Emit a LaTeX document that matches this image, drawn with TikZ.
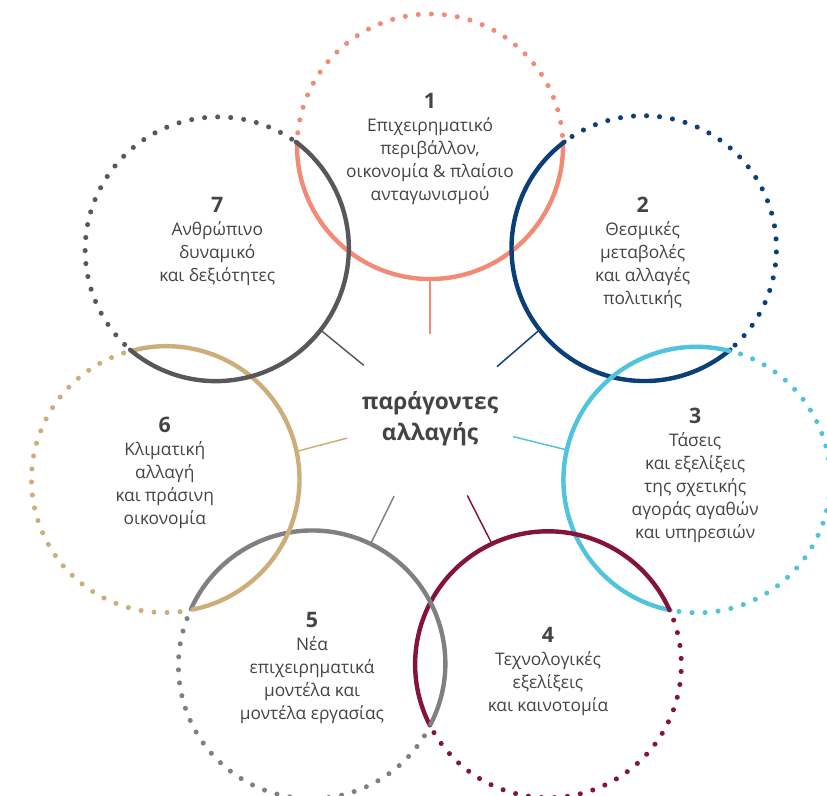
\documentclass[tikz,border=0pt]{standalone}
\usepackage{fontspec}
\setmainfont{Open Sans}
\usepackage{tikz}
\usetikzlibrary{shapes}

\definecolor{salmon}{HTML}{F28A75}
\definecolor{navy}{HTML}{0B3F78}
\definecolor{skyblue}{HTML}{4FC4DA}
\definecolor{wine}{HTML}{841538}
\definecolor{midgray}{HTML}{808084}
\definecolor{sand}{HTML}{CDAD7A}
\definecolor{darkgray}{HTML}{58585A}
\definecolor{inkgray}{HTML}{444444}

\begin{document}
\begin{tikzpicture}[x=0.75pt, y=0.75pt, ring/.style={circle, inner sep=0pt, outer sep=0pt, minimum size=199.5pt}, solidarc/.style={line width=3.3pt, line cap=round}, dotarc/.style={line width=3.8pt, line cap=round, dash pattern=on 0pt off 9.8pt}, spoke/.style={line width=1.1pt}, factor/.style={anchor=north, inner sep=0pt, align=center, text=inkgray, font=\fontsize{13}{17.25}\selectfont}, hubtext/.style={circle, inner sep=0pt, outer sep=0pt, minimum size=127.5pt, align=center, text=inkgray, font=\fontsize{17}{23}\selectfont\bfseries}]
		\useasboundingbox (0, 0) rectangle (827, 795);
		\node[hubtext] (hub) at (430, 376) {παράγοντες\\αλλαγής};
		
		\node[ring] (k1) at (430, 648) {};
		\draw[dotarc, salmon] (k1.5) arc[start angle=5, end angle=175, radius=133];
		\draw[solidarc, salmon] (k1.178.4) arc[start angle=178.4, end angle=361.6, radius=133];
		\node[factor] (t1) at (430, 702) {{\fontsize{16}{17.25}\selectfont\bfseries 1}\\Επιχειρηματικό\\περιβάλλον,\\οικονομία \& πλαίσιο\\ανταγωνισμού};
		
		\node[ring] (k2) at (642.7, 545.6) {};
		\draw[dotarc, navy] (k2.-46.43) arc[start angle=-46.43, end angle=123.57, radius=133];
		\draw[solidarc, navy] (k2.126.97) arc[start angle=126.97, end angle=310.17, radius=133];
		\node[factor] (t2) at (642.7, 598) {{\fontsize{16}{17.25}\selectfont\bfseries 2}\\Θεσμικές\\μεταβολές\\και αλλαγές\\πολιτικής};
		
		\node[ring] (k3) at (695.2, 315.5) {};
		\draw[dotarc, skyblue] (k3.-97.86) arc[start angle=-97.86, end angle=72.14, radius=133];
		\draw[solidarc, skyblue] (k3.75.54) arc[start angle=75.54, end angle=258.74, radius=133];
		\node[factor] (t3) at (695.2, 387) {{\fontsize{16}{17.25}\selectfont\bfseries 3}\\Τάσεις\\και εξελίξεις\\της σχετικής\\αγοράς αγαθών\\και υπηρεσιών};
		
		\node[ring] (k4) at (548, 130.9) {};
		\draw[dotarc, wine] (k4.-149.29) arc[start angle=-149.29, end angle=20.71, radius=133];
		\draw[solidarc, wine] (k4.24.11) arc[start angle=24.11, end angle=207.31, radius=133];
		\node[factor] (t4) at (548, 168) {{\fontsize{16}{17.25}\selectfont\bfseries 4}\\Τεχνολογικές\\εξελίξεις\\και καινοτομία};
		
		\node[ring] (k5) at (312, 130.9) {};
		\draw[dotarc, midgray] (k5.-200.71) arc[start angle=-200.71, end angle=-30.71, radius=133];
		\draw[solidarc, midgray] (k5.-27.31) arc[start angle=-27.31, end angle=155.89, radius=133];
		\node[factor] (t5) at (312, 183) {{\fontsize{16}{17.25}\selectfont\bfseries 5}\\Νέα\\επιχειρηματικά\\μοντέλα και\\μοντέλα εργασίας};
		
		\node[ring] (k6) at (164.8, 315.5) {};
		\draw[dotarc, sand] (k6.-252.14) arc[start angle=-252.14, end angle=-82.14, radius=133];
		\draw[solidarc, sand] (k6.-78.74) arc[start angle=-78.74, end angle=104.46, radius=133];
		\node[factor] (t6) at (164.8, 378) {{\fontsize{16}{17.25}\selectfont\bfseries 6}\\Κλιματική\\αλλαγή\\και πράσινη\\οικονομία};
		
		\node[ring] (k7) at (217.3, 545.6) {};
		\draw[dotarc, darkgray] (k7.56.43) arc[start angle=56.43, end angle=226.43, radius=133];
		\draw[solidarc, darkgray] (k7.229.83) arc[start angle=229.83, end angle=413.03, radius=133];
		\node[factor] (t7) at (217.3, 598) {{\fontsize{16}{17.25}\selectfont\bfseries 7}\\Ανθρώπινο\\δυναμικό\\και δεξιότητες};
		
		\draw[spoke, salmon] (hub.90) -- (k1.270);
		\draw[spoke, navy] (hub.38.57) -- (k2.218.57);
		\draw[spoke, skyblue] (hub.-12.86) -- (k3.167.14);
		\draw[spoke, wine] (hub.-64.29) -- (k4.115.71);
		\draw[spoke, midgray] (hub.-115.71) -- (k5.64.29);
		\draw[spoke, sand] (hub.-167.14) -- (k6.12.86);
		\draw[spoke, darkgray] (hub.141.43) -- (k7.-38.57);
	\end{tikzpicture}
\end{document}
